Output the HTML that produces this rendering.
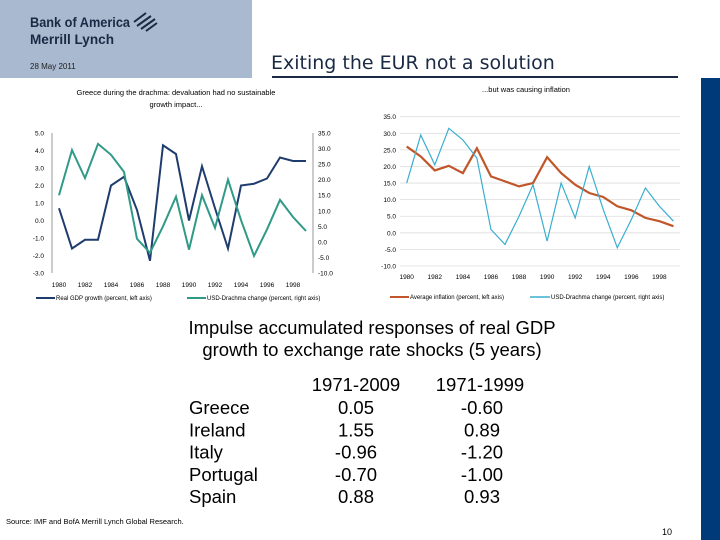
<!DOCTYPE html>
<html><head><meta charset="utf-8"><style>
body{margin:0;width:720px;height:540px;overflow:hidden;background:#fff;font-family:"Liberation Sans",sans-serif}
svg{display:block}
</style></head><body>
<svg id="s" width="720" height="540" xmlns="http://www.w3.org/2000/svg" font-family="Liberation Sans, sans-serif">
<rect x="0" y="0" width="252" height="78" fill="#a9b9cf"/>
<text x="30" y="27" font-size="14" font-weight="bold" fill="#1b2a44" textLength="100" lengthAdjust="spacingAndGlyphs">Bank of America</text>
<text x="30" y="44" font-size="14" font-weight="bold" fill="#1b2a44" textLength="84" lengthAdjust="spacingAndGlyphs">Merrill Lynch</text>
<g stroke="#1b2a44" stroke-width="2"><path d="M134 22 l12 -9 M137 26 l14 -10 M141 29 l14 -10 M146 31 l11 -8"/></g>
<text x="30" y="69" font-size="8" fill="#222">28 May 2011</text>
<text x="271" y="69" font-size="19" fill="#1b2a44" font-family="DejaVu Sans, sans-serif">Exiting the EUR not a solution</text>
<rect x="272" y="76" width="406" height="2" fill="#1b2a44"/>
<rect x="701" y="78" width="19" height="462" fill="#003a78"/>
<text x="176" y="95" font-size="7.5" text-anchor="middle" fill="#000">Greece during the drachma: devaluation had no sustainable</text>
<text x="176" y="107" font-size="7.5" text-anchor="middle" fill="#000">growth impact...</text>
<text x="526" y="92" font-size="7.5" text-anchor="middle" fill="#000">...but was causing inflation</text>
<g id="L"></g><g id="R"></g>
<text x="372" y="334" font-size="18.5" text-anchor="middle">Impulse accumulated responses of real GDP</text>
<text x="372" y="356" font-size="18.5" text-anchor="middle">growth to exchange rate shocks (5 years)</text>
<g id="T" font-size="18.5"></g>
<text x="6" y="524" font-size="7.5">Source: IMF and BofA Merrill Lynch Global Research.</text>
<text x="662" y="535" font-size="9">10</text>
</svg>
<script>
const years=[1980,1981,1982,1983,1984,1985,1986,1987,1988,1989,1990,1991,1992,1993,1994,1995,1996,1997,1998,1999];
const gdp=[0.7,-1.6,-1.1,-1.1,2.0,2.5,0.6,-2.3,4.3,3.8,0.0,3.1,0.7,-1.6,2.0,2.1,2.4,3.6,3.4,3.4];
const usdDrachma=[15,29.5,20.5,31.5,28,22.5,1,-3.5,5,14.5,-2.5,15,4.5,20,7,-4.5,4,13.5,8,3.5];
const inflation=[26,23,18.8,20.2,18,25.5,17,15.5,14,15,22.8,18,14.5,12,10.8,8,6.8,4.5,3.5,2];
const leftTicks=[5,4,3,2,1,0,-1,-2,-3];
const rightTicks=[35,30,25,20,15,10,5,0,-5,-10];
const countries=["Greece","Ireland","Italy","Portugal","Spain"];
const col2009=["0.05","1.55","-0.96","-0.70","0.88"];
const col1999=["-0.60","0.89","-1.20","-1.00","0.93"];
const NS="http://www.w3.org/2000/svg";
function mk(p,t,a){const e=document.createElementNS(NS,t);for(const k in a)e.setAttribute(k,a[k]);p.appendChild(e);return e;}
const L=document.getElementById('L');
const lx=y=>59+(y-1980)*13, ly=v=>133+(5-v)*17.5, ry=v=>133+(35-v)*(140/45);
mk(L,'line',{x1:52,y1:133,x2:52,y2:273,stroke:'#999'});
mk(L,'line',{x1:313,y1:133,x2:313,y2:273,stroke:'#999'});
leftTicks.forEach(v=>{const t=mk(L,'text',{x:44,y:ly(v)+2.5,'font-size':6.5,'text-anchor':'end'});t.textContent=v.toFixed(1);

});
rightTicks.forEach(v=>{const t=mk(L,'text',{x:318,y:ry(v)+2.5,'font-size':6.5});t.textContent=v.toFixed(1);

});
years.forEach((y,i)=>{if(i%2==0&&y<1999){const t=mk(L,'text',{x:lx(y),y:287,'font-size':6.5,'text-anchor':'middle'});t.textContent=y;

}});
let p1=mk(L,'polyline',{points:years.map((y,i)=>lx(y)+','+ly(gdp[i])).join(' '),fill:'none',stroke:'#1f3c6e','stroke-width':2});


let p2=mk(L,'polyline',{points:years.map((y,i)=>lx(y)+','+ry(usdDrachma[i])).join(' '),fill:'none',stroke:'#2f9a86','stroke-width':2});


mk(L,'line',{x1:36,y1:298,x2:55,y2:298,stroke:'#1f3c6e','stroke-width':2});
let t1=mk(L,'text',{x:56,y:300,'font-size':6});t1.textContent='Real GDP growth (percent, left axis)';


mk(L,'line',{x1:187,y1:298,x2:206,y2:298,stroke:'#2f9a86','stroke-width':2});
let t2=mk(L,'text',{x:207,y:300,'font-size':6});t2.textContent='USD-Drachma change (percent, right axis)';


const R=document.getElementById('R');
const bx=y=>406.7+(y-1980)*14.04, by=v=>116.7+(35-v)*(149.3/45);
rightTicks.forEach(v=>{mk(R,'line',{x1:400,y1:by(v),x2:680,y2:by(v),stroke:'#ddd','stroke-width':0.8});
const t=mk(R,'text',{x:396,y:by(v)+2.5,'font-size':6.5,'text-anchor':'end'});t.textContent=v.toFixed(1);

});
years.forEach((y,i)=>{if(i%2==0&&y<1999){const t=mk(R,'text',{x:bx(y),y:279,'font-size':6.5,'text-anchor':'middle'});t.textContent=y;

}});
let p3=mk(R,'polyline',{points:years.map((y,i)=>bx(y)+','+by(inflation[i])).join(' '),fill:'none',stroke:'#c0562a','stroke-width':2.2});


let p4=mk(R,'polyline',{points:years.map((y,i)=>bx(y)+','+by(usdDrachma[i])).join(' '),fill:'none',stroke:'#3aaed0','stroke-width':1.2});


mk(R,'line',{x1:390,y1:297,x2:409,y2:297,stroke:'#c0562a','stroke-width':2});
let t3=mk(R,'text',{x:410,y:299,'font-size':6});t3.textContent='Average inflation (percent, left axis)';


mk(R,'line',{x1:530,y1:297,x2:550,y2:297,stroke:'#3aaed0','stroke-width':1.5});
let t4=mk(R,'text',{x:551,y:299,'font-size':6});t4.textContent='USD-Drachma change (percent, right axis)';


const T=document.getElementById('T');
let h1=mk(T,'text',{x:356,y:391,'text-anchor':'middle'});h1.textContent='1971-2009';


let h2=mk(T,'text',{x:480,y:391,'text-anchor':'middle'});h2.textContent='1971-1999';


countries.forEach((c,i)=>{const y=414+i*22.3;
const a=mk(T,'text',{x:189,y:y});a.textContent=c;


const b=mk(T,'text',{x:356,y:y,'text-anchor':'middle'});b.textContent=col2009[i];


const d=mk(T,'text',{x:482,y:y,'text-anchor':'middle'});d.textContent=col1999[i];

});
</script>
</body></html>
